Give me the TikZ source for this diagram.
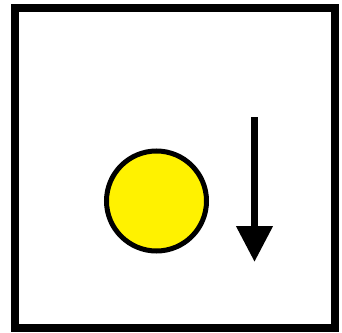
\documentclass[tikz,border=0pt]{standalone}
\usepackage{xcolor}
\usepackage{tikz}
\usetikzlibrary{arrows.meta}

\begin{document}
\begin{tikzpicture}[x=1pt,y=-1pt,>={Triangle[length=36pt,width=35pt]}]
\useasboundingbox (0,0) rectangle (342,332);
\draw[line width=8pt] (15,8) rectangle (335,327.5);
\node[circle,draw,line width=5pt,fill=yellow,minimum size=100pt,inner sep=0pt] (ball) at (156.5,201) {};
\coordinate (top) at (254.5,117);
\coordinate (tip) at (254.5,262);
\draw[->,line width=7.5pt] (top) -- (tip);
\end{tikzpicture}
\end{document}
